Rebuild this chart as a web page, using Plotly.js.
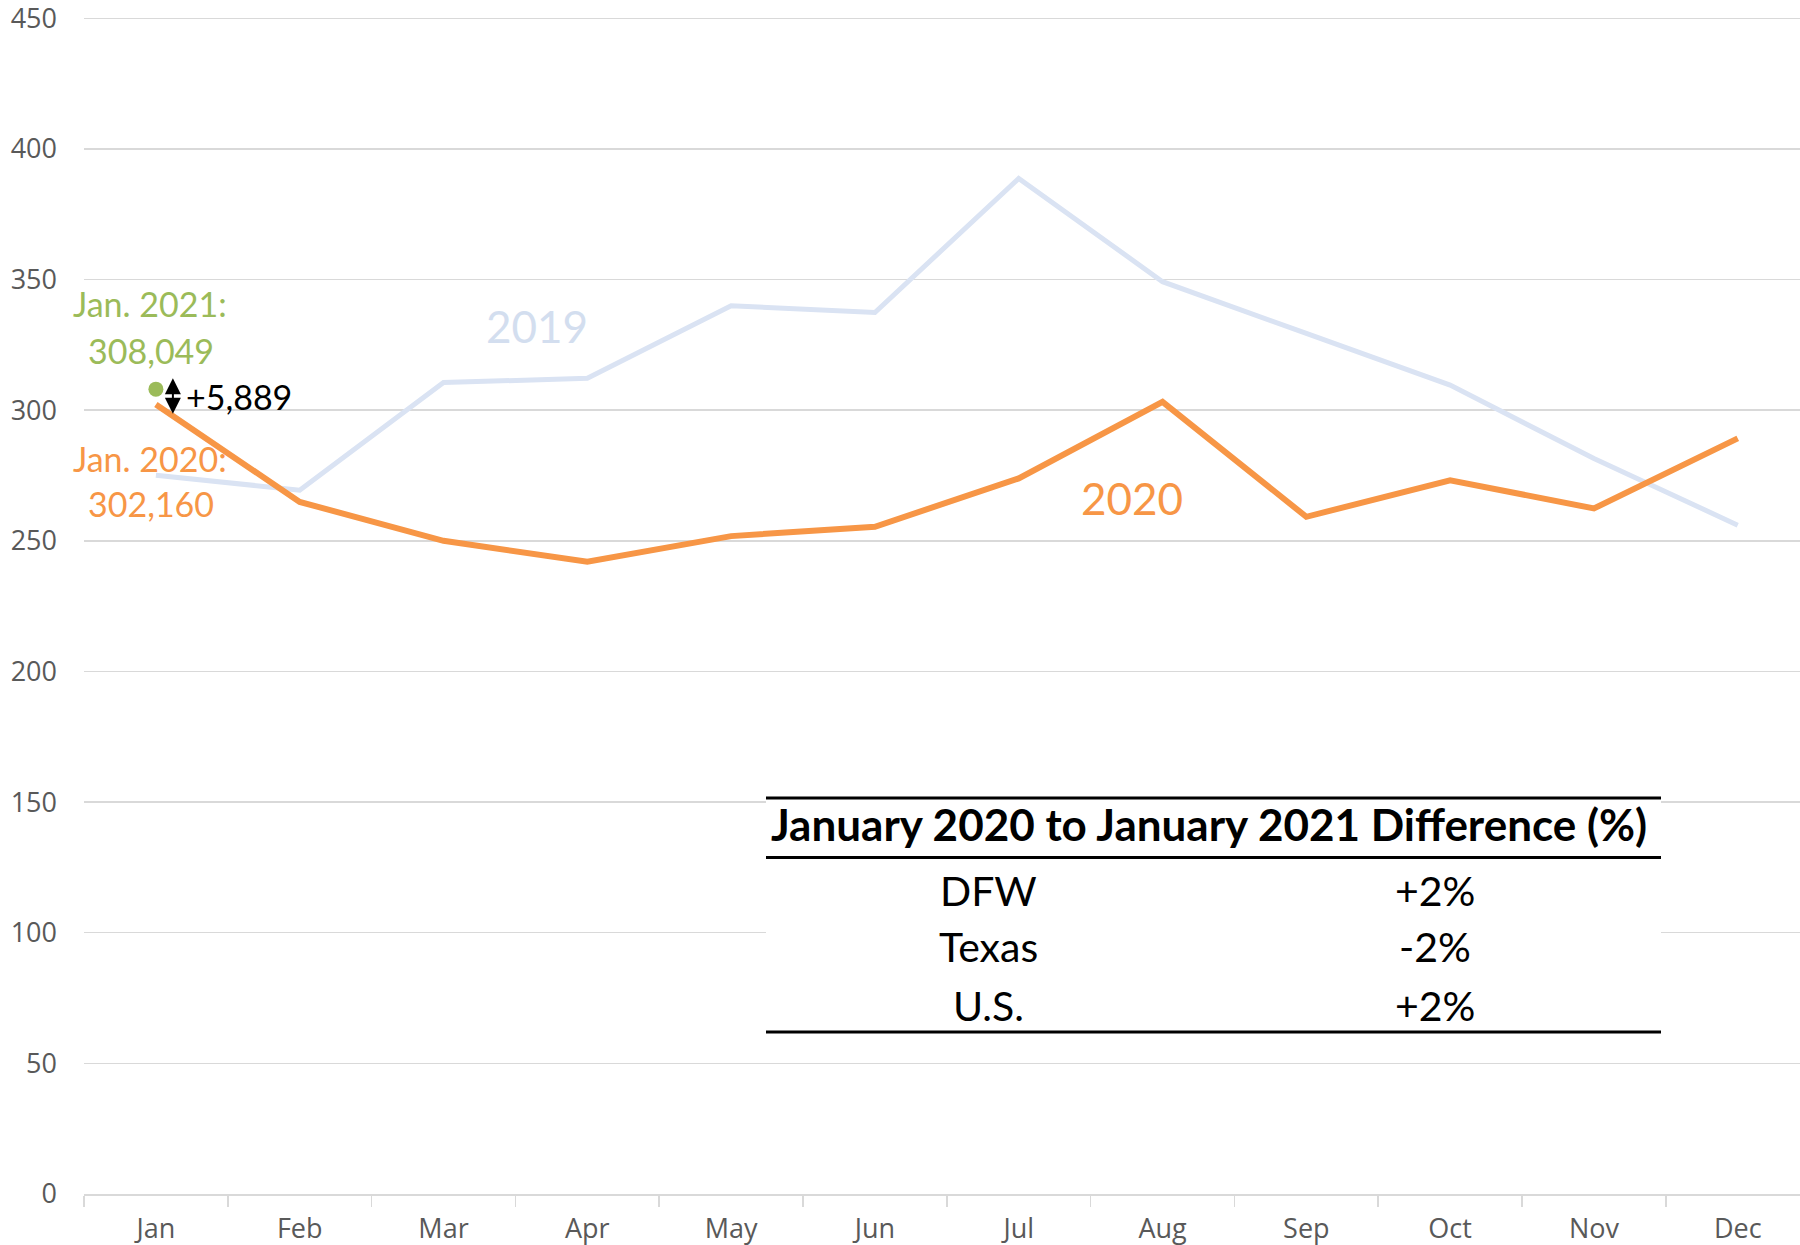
<!DOCTYPE html>
<html><head><meta charset="utf-8">
<script src="https://cdn.plot.ly/plotly-3.0.1.min.js"></script>
<style>html,body{margin:0;padding:0;background:#fff;} #chart{width:1800px;height:1245px;}</style>
</head><body><div id="chart"></div>
<script>
// ---- data (thousands) ----
const months = ['Jan','Feb','Mar','Apr','May','Jun','Jul','Aug','Sep','Oct','Nov','Dec'];
const sales2019 = [275.1, 269.4, 310.6, 312.2, 340.0, 337.4, 388.7, 349.2, 329.4, 309.6, 281.5, 256.0];
const sales2020 = [302.160, 264.9, 250.0, 242.0, 251.8, 255.4, 273.9, 303.2, 259.2, 273.2, 262.4, 289.2];
const jan2021 = 308.049;
const yTicks = [0, 50, 100, 150, 200, 250, 300, 350, 400, 450];
const tableHeader = 'January 2020 to January 2021 Difference (%)';
const tableRegions = ['DFW', 'Texas', 'U.S.'];
const tableDiffs = ['+2%', '-2%', '+2%'];

const fmt = v => Math.round(v * 1000).toLocaleString('en-US');
const jan2020 = sales2020[0];
const diff = jan2021 - jan2020;

const ORANGE = '#f79646', BLUE = '#dae3f3', GREEN = '#9bbb59', GRID = '#d9d9d9';
const CAL = 'Lato, "Open Sans", sans-serif';

const traces = [
  {x: months, y: sales2019, type: 'scatter', mode: 'lines', line: {color: BLUE, width: 5}, hoverinfo: 'skip'},
  {x: months, y: sales2020, type: 'scatter', mode: 'lines', line: {color: ORANGE, width: 6}, hoverinfo: 'skip'},
  {x: [months[0]], y: [jan2021], type: 'scatter', mode: 'markers', marker: {color: GREEN, size: 15}, hoverinfo: 'skip'}
];

const PT = 16, PB = 51, PH = 1245 - PT - PB;
const tx = (px) => (px - 84) / 1716;
const ty = (py) => (1245 - PB - py) / PH;

const annotations = [
  {x: 0, y: jan2021, xref: 'x', yref: 'y', text: 'Jan. 2021:', showarrow: false, xshift: -5.5, yshift: 85.5,
   font: {family: CAL, size: 34, color: GREEN}},
  {x: 0, y: jan2021, xref: 'x', yref: 'y', text: fmt(jan2021), showarrow: false, xshift: -5, yshift: 39,
   font: {family: CAL, size: 34, color: GREEN}},
  {x: 0, y: jan2020, xref: 'x', yref: 'y', text: 'Jan. 2020:', showarrow: false, xshift: -5.5, yshift: -54,
   font: {family: CAL, size: 34, color: ORANGE}},
  {x: 0, y: jan2020, xref: 'x', yref: 'y', text: fmt(jan2020), showarrow: false, xshift: -5, yshift: -99,
   font: {family: CAL, size: 34, color: ORANGE}},
  {x: 0, y: jan2021, xref: 'x', yref: 'y', text: '+' + fmt(diff), showarrow: false, xanchor: 'left', xshift: 28, yshift: -7,
   font: {family: CAL, size: 34, color: '#000'}},
  {x: 0, y: (jan2020 + jan2021) / 2, xref: 'x', yref: 'y', text: '', showarrow: true, ax: 0, ay: -37,
   xshift: 17, yshift: -17, arrowside: 'end+start', arrowhead: 2, startarrowhead: 2,
   arrowsize: 1.6, startarrowsize: 1.6, arrowwidth: 2, arrowcolor: '#000'},
  {x: 2.65, y: 332.1, xref: 'x', yref: 'y', text: '2019', showarrow: false,
   font: {family: CAL, size: 44, color: '#d3deef'}},
  {x: 6.79, y: 266.3, xref: 'x', yref: 'y', text: '2020', showarrow: false,
   font: {family: CAL, size: 44, color: ORANGE}},
  {x: tx(1209), y: ty(824), xref: 'paper', yref: 'paper', xanchor: 'center', yanchor: 'middle',
   text: '<b>' + tableHeader + '</b>', showarrow: false,
   font: {family: CAL, size: 44, color: '#000'}}
];
const rowY = [890, 946.7, 1005];
tableRegions.forEach((r, i) => {
  annotations.push({x: tx(988.5), y: ty(rowY[i]), xref: 'paper', yref: 'paper', xanchor: 'center', yanchor: 'middle',
    text: r, showarrow: false, font: {family: CAL, size: 41, color: '#000'}});
  annotations.push({x: tx(1435.3), y: ty(rowY[i]), xref: 'paper', yref: 'paper', xanchor: 'center', yanchor: 'middle',
    text: tableDiffs[i], showarrow: false, font: {family: CAL, size: 41, color: '#000'}});
});

const X0 = tx(766), X1 = tx(1661);
const shapes = [
  {type: 'rect', xref: 'paper', yref: 'paper', x0: X0, x1: X1, y0: ty(1032), y1: ty(798), fillcolor: '#fff', line: {width: 0}},
  {type: 'line', xref: 'paper', yref: 'paper', x0: X0, x1: X1, y0: ty(798), y1: ty(798), line: {color: '#000', width: 3}},
  {type: 'line', xref: 'paper', yref: 'paper', x0: X0, x1: X1, y0: ty(857.5), y1: ty(857.5), line: {color: '#000', width: 3}},
  {type: 'line', xref: 'paper', yref: 'paper', x0: X0, x1: X1, y0: ty(1032), y1: ty(1032), line: {color: '#000', width: 3}}
];

const layout = {
  width: 1800, height: 1245,
  margin: {l: 84, r: 0, t: PT, b: PB},
  paper_bgcolor: '#fff', plot_bgcolor: '#fff',
  showlegend: false,
  xaxis: {type: 'category', range: [-0.5, 11.433], tickson: 'boundaries', ticks: 'outside', ticklen: 11,
    tickwidth: 1.5, tickcolor: GRID, showline: true, linecolor: GRID, linewidth: 2, showgrid: false,
    tickfont: {family: '"Open Sans", sans-serif', size: 27, color: '#595959'}, ticklabelstandoff: 10},
  yaxis: {range: [0, 450 * PH / (1245 - PB - 18.3)], tickvals: yTicks, showgrid: true, gridcolor: GRID, gridwidth: 1.5, zeroline: false,
    showline: false, ticks: '', ticklabelstandoff: 26, ticklabeloverflow: 'allow',
    tickfont: {family: '"Open Sans", sans-serif', size: 27, color: '#595959'}},
  annotations: annotations,
  shapes: shapes
};

Plotly.newPlot('chart', traces, layout, {staticPlot: true, displayModeBar: false});
</script>
</body></html>
